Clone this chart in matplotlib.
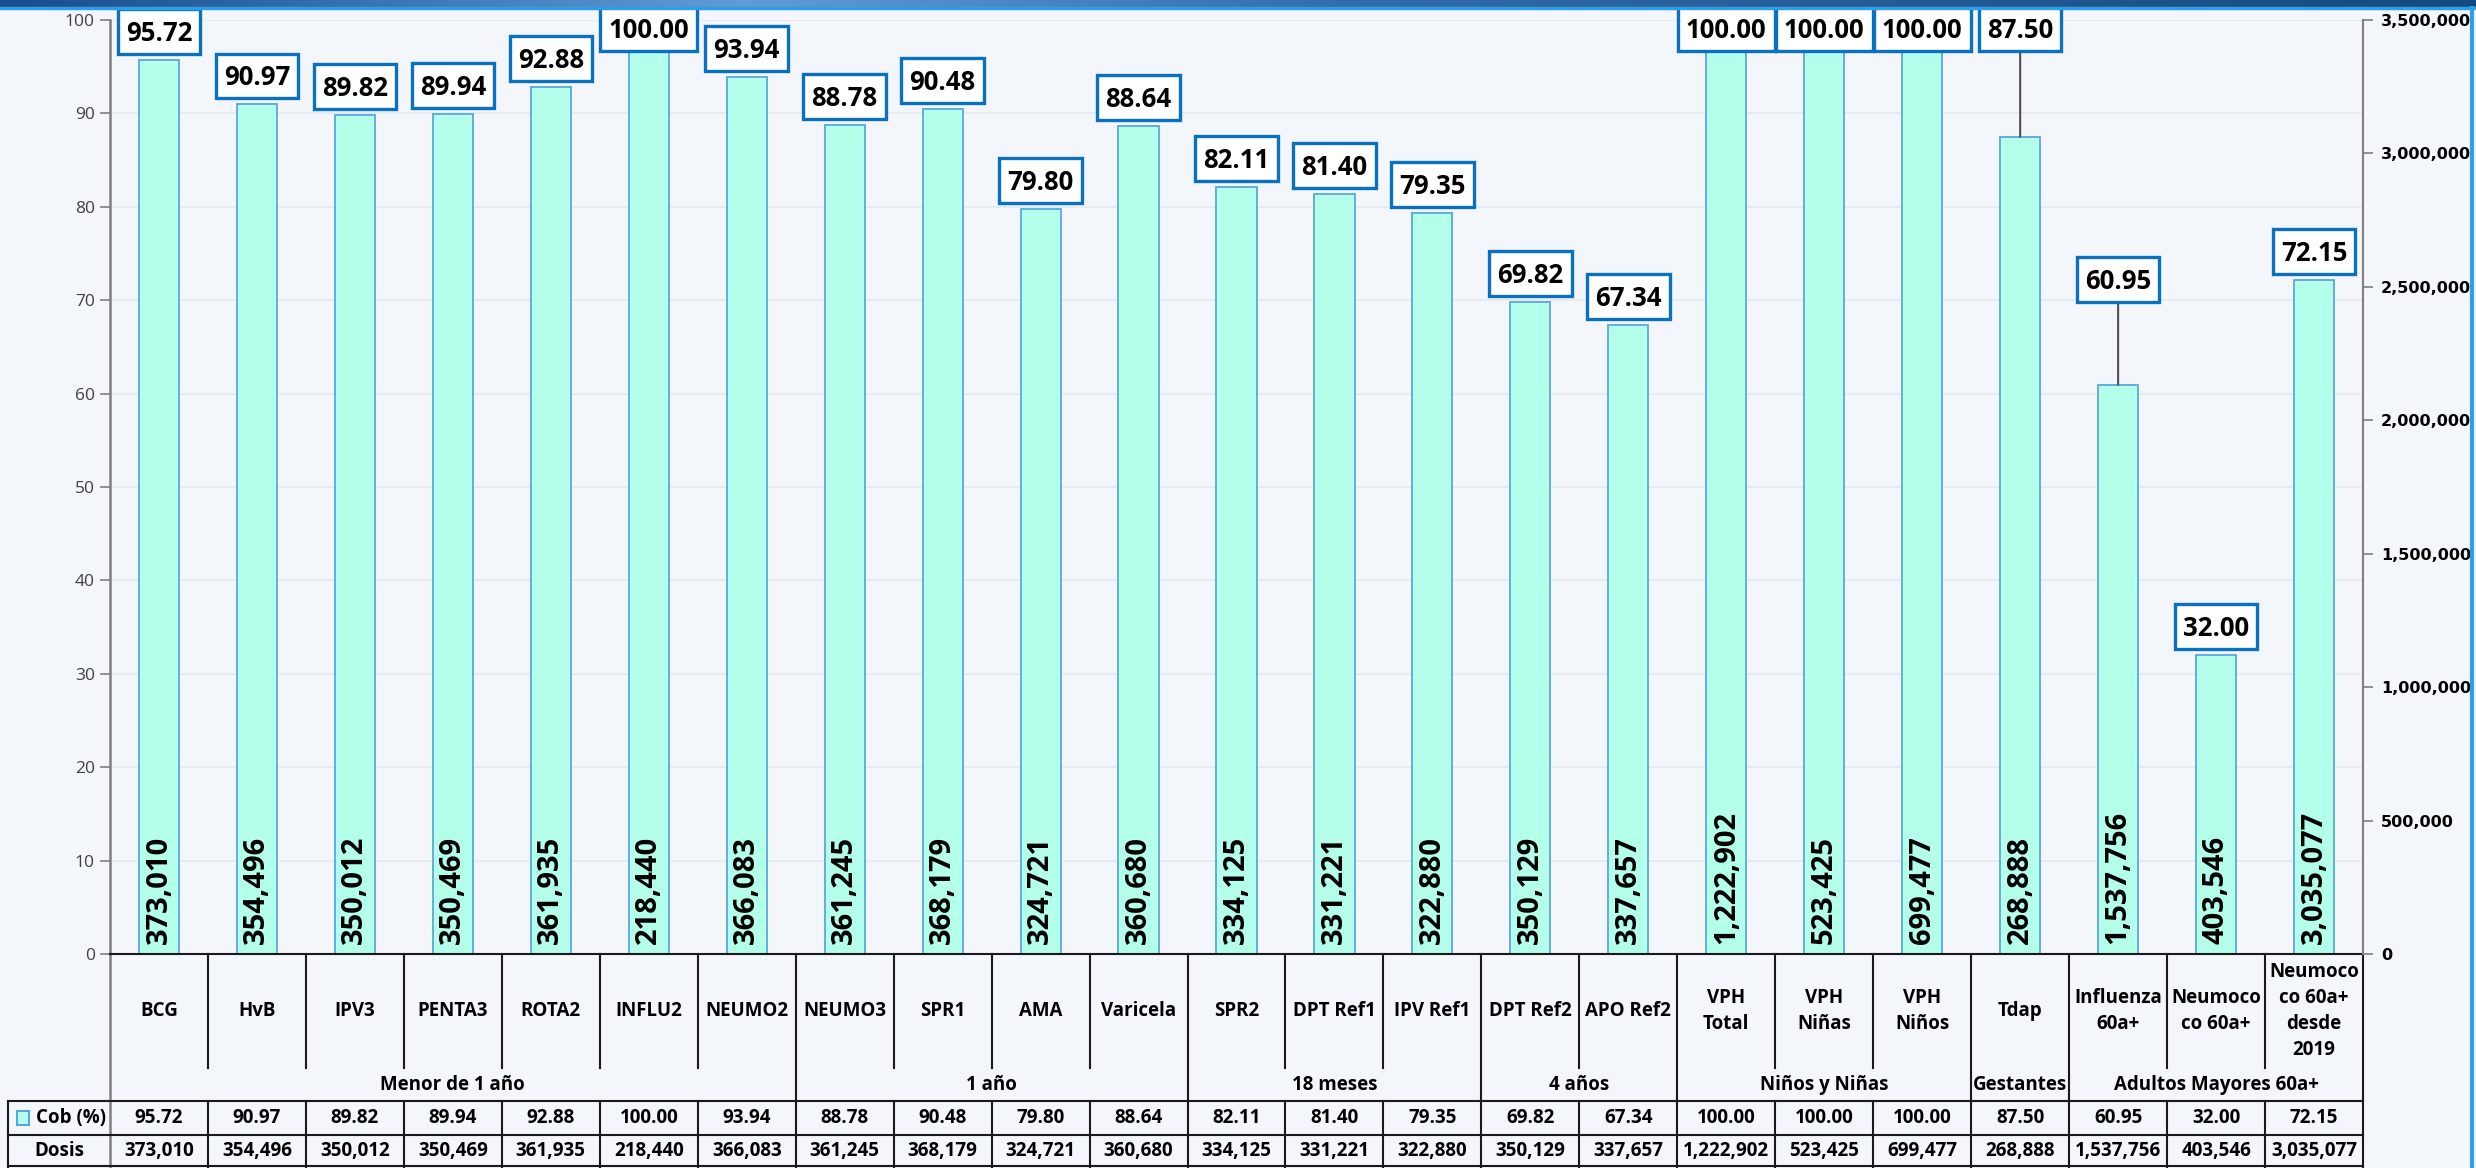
import matplotlib
matplotlib.use("Agg")
import matplotlib.pyplot as plt
import matplotlib.transforms as mtransforms
from matplotlib.patches import Rectangle
from matplotlib.path import Path
from matplotlib.ticker import FuncFormatter
import numpy as np

# datos
categorias = ["BCG", "HvB", "IPV3", "PENTA3", "ROTA2", "INFLU2", "NEUMO2",
              "NEUMO3", "SPR1", "AMA", "Varicela",
              "SPR2", "DPT Ref1", "IPV Ref1",
              "DPT Ref2", "APO Ref2",
              "VPH\nTotal", "VPH\nNiñas", "VPH\nNiños",
              "Tdap",
              "Influenza\n60a+", "Neumoco\nco 60a+", "Neumoco\nco 60a+\ndesde\n2019"]
cobertura = [95.72, 90.97, 89.82, 89.94, 92.88, 100.00, 93.94,
             88.78, 90.48, 79.80, 88.64,
             82.11, 81.40, 79.35,
             69.82, 67.34,
             100.00, 100.00, 100.00,
             87.50,
             60.95, 32.00, 72.15]
dosis = [373010, 354496, 350012, 350469, 361935, 218440, 366083,
         361245, 368179, 324721, 360680,
         334125, 331221, 322880,
         350129, 337657,
         1222902, 523425, 699477,
         268888,
         1537756, 403546, 3035077]
grupos = ["Menor de 1 año", "1 año", "18 meses", "4 años",
          "Niños y Niñas", "Gestantes", "Adultos Mayores 60a+"]
grupo_n = [7, 4, 3, 2, 3, 1, 3]

# etiquetas movidas a mano (valor del borde inferior del texto, con linea guia o no)
etiqueta_mov = {5: (97.4, False), 16: (97.4, False), 17: (97.4, False),
                18: (97.4, False), 19: (97.4, True), 20: (70.55, True)}

BG = "#F3F6FB"
BAR = "#B3FFEA"
BAR_EDGE = "#5AA7DE"
BOX_EDGE = "#0A70C0"
LINE = "#1a1a1a"
TFONT = ["Open Sans", "DejaVu Sans"]

plt.rcParams["font.family"] = ["DejaVu Sans"]


class CajaEtiqueta:
    """caja rectangular con margenes propios a los lados, arriba y abajo"""
    def __init__(self, padx, pad_arriba, pad_abajo):
        self.padx = padx
        self.pad_arriba = pad_arriba
        self.pad_abajo = pad_abajo

    def __call__(self, x0, y0, width, height, mutation_size):
        px = self.padx * mutation_size
        x1 = x0 + width + px
        y1 = y0 + height + self.pad_arriba * mutation_size
        x0 = x0 - px
        y0 = y0 - self.pad_abajo * mutation_size
        return Path([(x0, y0), (x1, y0), (x1, y1), (x0, y1), (x0, y0)], closed=True)


fig = plt.figure(figsize=(24.76, 11.68), dpi=100, facecolor=BG)
W, H = 2476.0, 1168.0
ax = fig.add_axes([110 / W, (H - 954) / H, (2363 - 110) / W, 934 / H])
ax.set_facecolor("none")

n = len(categorias)
x = np.arange(n)
ax.bar(x, cobertura, width=0.41, color=BAR, edgecolor=BAR_EDGE, linewidth=1.3, zorder=2)
ax.set_xlim(-0.5, n - 0.5)
ax.set_ylim(0, 100)
ax.set_yticks(range(0, 101, 10))
ax.set_xticks([])
ax.yaxis.grid(True, color="#E4E9F0", linewidth=1.2, zorder=0)
ax.set_axisbelow(True)
ax.tick_params(axis="y", direction="out", length=7, width=1.2, color="#808080",
               labelcolor="#404040", labelsize=12.5, pad=4)
for lab in ax.get_yticklabels():
    lab.set_family(TFONT)
for s in ["top", "right"]:
    ax.spines[s].set_visible(False)
ax.spines["left"].set_color("#808080")
ax.spines["left"].set_linewidth(1.8)
ax.spines["bottom"].set_color(LINE)
ax.spines["bottom"].set_linewidth(1.5)

ax2 = ax.twinx()
ax2.set_ylim(0, 3500000)
ax2.set_yticks(range(0, 3500001, 500000))
ax2.yaxis.set_major_formatter(FuncFormatter(lambda v, p: f"{int(v):,}"))
ax2.tick_params(axis="y", direction="out", length=7, width=1.2, color="#808080",
                labelcolor="black", labelsize=11.5, pad=6)
for lab in ax2.get_yticklabels():
    lab.set_fontweight("bold")
for s in ["top", "left", "bottom"]:
    ax2.spines[s].set_visible(False)
ax2.spines["right"].set_color("#808080")
ax2.spines["right"].set_linewidth(1.5)

# etiquetas de cobertura
caja = dict(boxstyle=CajaEtiqueta(0.32, 0.42, 0.27), facecolor="white", edgecolor=BOX_EDGE,
            linewidth=2.4)
for i, v in enumerate(cobertura):
    if i in etiqueta_mov:
        ty, guia = etiqueta_mov[i]
        ap = dict(arrowstyle="-", color="#505050", lw=1.5, shrinkA=0, shrinkB=0) if guia else None
        ax.annotate(f"{v:.2f}", xy=(i, v), xytext=(i, ty), textcoords="data",
                    ha="center", va="bottom", fontsize=18.5, fontweight="bold",
                    family=TFONT, bbox=caja, arrowprops=ap, zorder=5,
                    annotation_clip=False)
    else:
        ax.annotate(f"{v:.2f}", xy=(i, v), xytext=(0, 9.3), textcoords="offset points",
                    ha="center", va="bottom", fontsize=18.5, fontweight="bold",
                    family=TFONT, bbox=caja, zorder=5, annotation_clip=False)

# dosis dentro de las barras
for i, d in enumerate(dosis):
    ax.annotate(f"{d:,}", xy=(i, 0), xytext=(0, 7), textcoords="offset points",
                rotation=90, ha="center", va="bottom", fontsize=21, fontweight="bold",
                family=TFONT, zorder=4)

# tabla de datos debajo del grafico
tr = mtransforms.blended_transform_factory(ax.transData, ax.transAxes)
y0, y1, y2, y3, y4 = 0.0, -0.1221, -0.1574, -0.1938, -0.2291
x_leg = -0.5 - (110 - 8) / 98.0


def linea(xs, ys, **kw):
    ax.plot(xs, ys, transform=tr, clip_on=False, color=LINE, linewidth=1.5, **kw)


limites = np.cumsum(grupo_n)[:-1]
for b in range(1, n):
    xb = b - 0.5
    if b in limites:
        linea([xb, xb], [y0, y4])
    else:
        linea([xb, xb], [y0, y1])
        linea([xb, xb], [y2, y4])
linea([n - 0.5, n - 0.5], [y0, y4])
ax.plot([-0.5, -0.5], [y0, y4], transform=tr, clip_on=False, color="#808080", linewidth=1.8)
linea([x_leg, x_leg], [y2, y4])
linea([x_leg, n - 0.5], [y2, y2])
linea([x_leg, n - 0.5], [y3, y3])
linea([x_leg, n - 0.5], [y4 + 0.002, y4 + 0.002])

tk = dict(transform=tr, ha="center", va="center", fontsize=13.5, fontweight="bold",
          family=TFONT, clip_on=False)
for i, c in enumerate(categorias):
    ax.text(i, (y0 + y1) / 2, c, linespacing=1.4, **tk)
    ax.text(i, (y2 + y3) / 2, f"{cobertura[i]:.2f}", **tk)
    ax.text(i, (y3 + y4) / 2, f"{dosis[i]:,}", **tk)

inicio = 0
for g, k in zip(grupos, grupo_n):
    ax.text(inicio + (k - 1) / 2.0, (y1 + y2) / 2, g, **tk)
    inicio += k

# leyenda de la tabla
ym = (y2 + y3) / 2
ax.add_patch(Rectangle((-1.449, ym - 0.007), 0.122, 0.014, transform=tr, clip_on=False,
                       facecolor=BAR, edgecolor=BAR_EDGE, linewidth=1.5))
ax.text(-1.255, ym, "Cob (%)", transform=tr, ha="left", va="center", fontsize=13.5,
        fontweight="bold", family=TFONT, clip_on=False)
ax.text(-1.02, (y3 + y4) / 2, "Dosis", transform=tr, ha="center", va="center",
        fontsize=13.5, fontweight="bold", family=TFONT, clip_on=False)

# banda superior y borde derecho de la ventana
band = fig.add_axes([0, 1 - 8 / H, 1, 8 / H])
grad = np.linspace(0, 1, 400)
r = np.interp(grad, [0, 0.08, 0.3, 0.55, 1], [0.10, 0.16, 0.38, 0.20, 0.08])
g_ = np.interp(grad, [0, 0.08, 0.3, 0.55, 1], [0.30, 0.38, 0.61, 0.42, 0.29])
b_ = np.interp(grad, [0, 0.08, 0.3, 0.55, 1], [0.55, 0.62, 0.84, 0.66, 0.50])
band.imshow(np.dstack([r, g_, b_]), aspect="auto", extent=[0, 1, 0, 1])
band.axis("off")
fig.add_artist(plt.Line2D([0, 1], [1 - 8 / H, 1 - 8 / H], transform=fig.transFigure,
                          color="#2E9FE6", linewidth=2.5))
fig.add_artist(plt.Line2D([2472 / W, 2472 / W], [0.0, 1 - 8 / H], transform=fig.transFigure,
                          color="#2E9FE6", linewidth=3))

fig.savefig("out.png", dpi=100, facecolor=BG)
